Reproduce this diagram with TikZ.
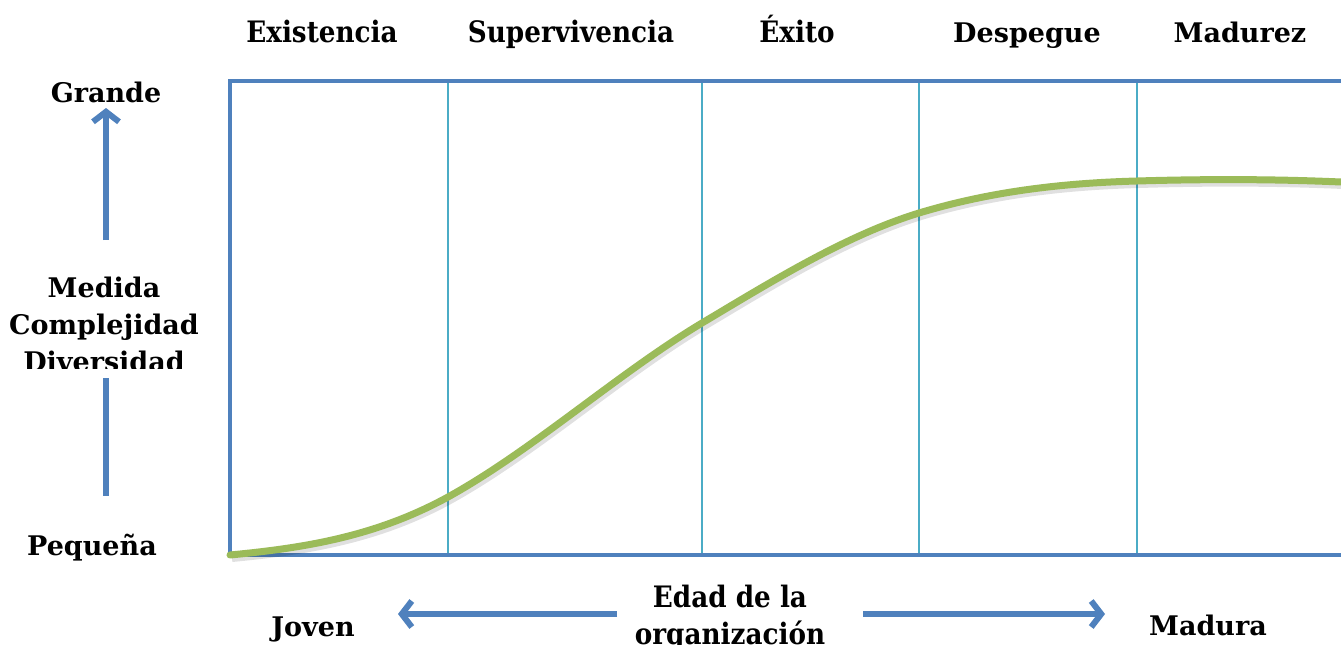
\documentclass[tikz,border=0pt]{standalone}
\usepackage{fontspec}
\setmainfont{DejaVu Serif}
\newfontfamily\condfont[FakeStretch=0.89]{DejaVu Serif}
\usetikzlibrary{arrows.meta}
\definecolor{boxblue}{HTML}{4F81BD}
\definecolor{divblue}{HTML}{4BACC6}
\definecolor{curvegreen}{HTML}{9BBB59}
\tikzset{
  lbl/.style={inner sep=0pt, anchor=base, font=\fontsize{27}{37}\selectfont\bfseries},
  clbl/.style={lbl, font=\fontsize{29.5}{37}\selectfont\condfont\bfseries},
  frame/.style={draw=boxblue, line width=3.5pt, line join=miter},
  divider/.style={draw=divblue, line width=1.8pt},
  growth/.style={draw=curvegreen, line width=7pt, line cap=round},
  shadowline/.style={draw=black, opacity=0.12, line width=8pt},
  bluearrow/.style={draw=boxblue, line width=6pt, -{Straight Barb[length=10pt,width=26pt]}},
  blueline/.style={draw=boxblue, line width=6pt},
}
\newcommand{\growthpath}{(230,555) .. controls (303,548) and (375,537) .. (448,497)
  .. controls (533,450) and (617,374) .. (702,323)
  .. controls (774,280) and (847,235) .. (919,213)
  .. controls (992,191) and (1064,183) .. (1137,181)
  .. controls (1205,179) and (1273,179) .. (1341,182)}
\begin{document}
\begin{tikzpicture}[x=1pt,y=-1pt]
\clip (0,0) rectangle (1341,645);
\fill[white] (0,0) rectangle (1341,645);

% frame and dividers
\coordinate (tl) at (230,81);
\coordinate (bl) at (230,555);
\coordinate (tr) at (1350,81);
\coordinate (br) at (1350,555);
\foreach \x/\n in {448/a,702/b,919/c,1137/d}{
  \coordinate (dt\n) at (\x,81);
  \coordinate (db\n) at (\x,555);
  \draw[divider] (dt\n) -- (db\n);
}
\draw[frame] (tr) -- (tl) -- (bl) -- (br);

% growth curve
\draw[shadowline, shift={(2pt,-3pt)}] \growthpath;
\draw[growth] \growthpath;

% stage labels
\node[clbl] (s1) at (322,42) {Existencia};
\node[clbl] (s2) at (571,42) {Supervivencia};
\node[clbl] (s3) at (797,42) {Éxito};
\node[lbl] (s4) at (1027,42) {Despegue};
\node[lbl] (s5) at (1240,42) {Madurez};

% vertical axis
\node[lbl] (grande) at (106,102) {Grande};
\coordinate (uparrowtail) at (106,240);
\coordinate (uparrowtip) at (106,108);
\draw[bluearrow] (uparrowtail) -- (uparrowtip);
\begin{scope}
\clip (0,250) rectangle (229,368);
\node[lbl] (medida) at (104,297) {Medida};
\node[lbl] (complejidad) at (104,334) {Complejidad};
\node[lbl] (diversidad) at (104,371) {Diversidad};
\end{scope}
\coordinate (lowtop) at (106,378);
\coordinate (lowbot) at (106,496);
\draw[blueline] (lowtop) -- (lowbot);
\node[lbl] (pequena) at (92,555) {Pequeña};

% horizontal axis
\node[lbl] (joven) at (313,636) {Joven};
\node[lbl] (madura) at (1208,635) {Madura};
\node[clbl] (edad) at (730,607) {Edad de la};
\node[clbl] (organizacion) at (730,644) {organización};
\coordinate (leftarrowtail) at (617,614);
\coordinate (leftarrowtip) at (398,614);
\coordinate (rightarrowtail) at (863,614);
\coordinate (rightarrowtip) at (1105,614);
\draw[bluearrow] (leftarrowtail) -- (leftarrowtip);
\draw[bluearrow] (rightarrowtail) -- (rightarrowtip);
\end{tikzpicture}
\end{document}
